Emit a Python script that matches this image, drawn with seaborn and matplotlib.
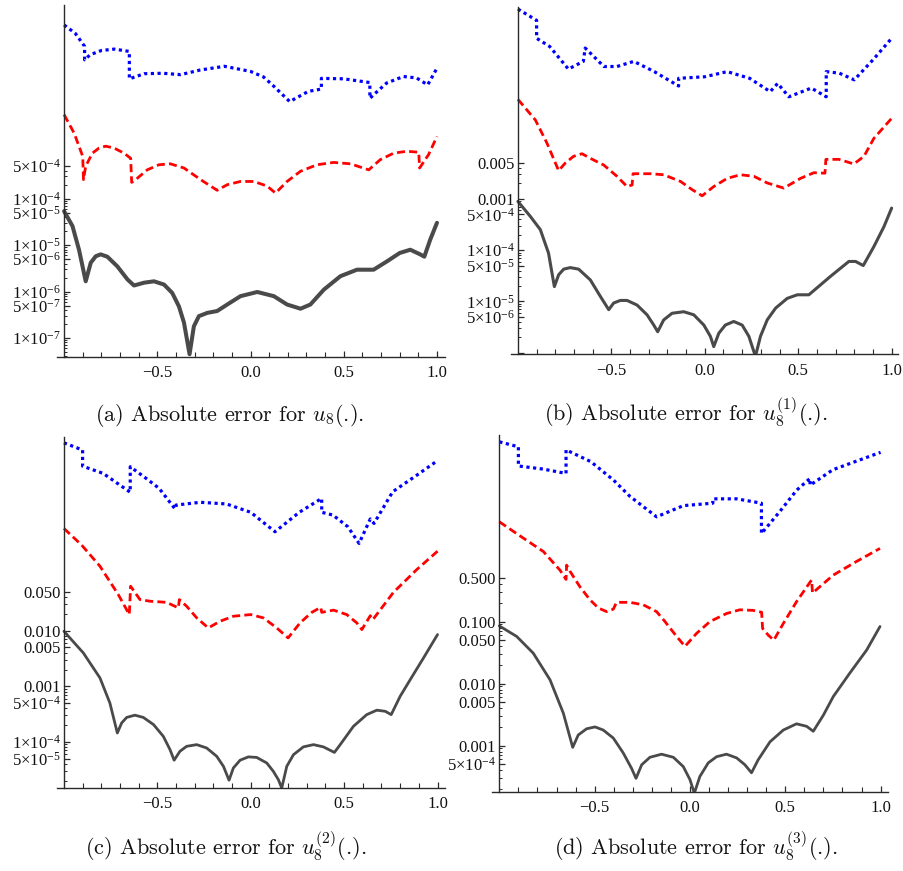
import numpy as np
import pandas as pd
import matplotlib
matplotlib.use("Agg")
import matplotlib.pyplot as plt
import seaborn as sns

# ---------------- data (log10 of absolute error) ----------------
# panel (a)
a_x_blue = [-1.0, -0.94, -0.89, -0.89, -0.86, -0.80, -0.73, -0.65, -0.65, -0.57, -0.47, -0.375, -0.27, -0.14,
            0.0, 0.07, 0.125, 0.21, 0.31, 0.38, 0.38, 0.50, 0.64, 0.64, 0.68, 0.73, 0.82, 0.89, 0.95, 1.0]
a_L_blue = [-0.26, -0.44, -0.72, -1.01, -0.90, -0.81, -0.78, -0.83, -1.42, -1.31, -1.30, -1.33, -1.23, -1.15,
            -1.26, -1.38, -1.58, -1.91, -1.69, -1.64, -1.41, -1.42, -1.50, -1.84, -1.69, -1.51, -1.37, -1.40, -1.55, -1.19]
a_x_red = [-1.0, -0.946, -0.90, -0.896, -0.884, -0.848, -0.8125, -0.777, -0.732, -0.679, -0.643, -0.6375, -0.607,
           -0.554, -0.491, -0.43, -0.357, -0.268, -0.214, -0.179, -0.125, -0.054, 0.018, 0.089, 0.134, 0.196,
           0.268, 0.357, 0.446, 0.536, 0.634, 0.696, 0.768, 0.839, 0.902, 0.907, 0.955, 1.0]
a_L_red = [-2.19, -2.59, -3.09, -3.59, -3.30, -3.02, -2.91, -2.87, -2.91, -3.02, -3.13, -3.65, -3.56,
           -3.38, -3.27, -3.25, -3.34, -3.59, -3.73, -3.82, -3.70, -3.63, -3.63, -3.73, -3.88, -3.63,
           -3.41, -3.27, -3.22, -3.25, -3.38, -3.16, -3.02, -2.98, -3.00, -3.34, -3.05, -2.66]
a_x_gray = [-1.0, -0.955, -0.92, -0.884, -0.857, -0.83, -0.804, -0.768, -0.714, -0.66, -0.625, -0.571, -0.518,
            -0.464, -0.42, -0.384, -0.357, -0.327, -0.304, -0.277, -0.232, -0.179, -0.125, -0.054, 0.036, 0.125,
            0.196, 0.268, 0.321, 0.393, 0.482, 0.571, 0.66, 0.732, 0.80, 0.857, 0.91, 0.932, 0.964, 1.0]
a_L_gray = [-4.27, -4.59, -5.10, -5.78, -5.38, -5.24, -5.20, -5.25, -5.46, -5.74, -5.87, -5.81, -5.78,
            -5.85, -6.03, -6.32, -6.67, -7.35, -6.75, -6.53, -6.46, -6.42, -6.28, -6.10, -6.01, -6.10,
            -6.28, -6.37, -6.28, -5.96, -5.67, -5.53, -5.53, -5.35, -5.17, -5.10, -5.20, -5.25, -4.88, -4.52]

# panel (b)
b_x_blue = [-1.0, -0.90, -0.90, -0.83, -0.73, -0.65, -0.64, -0.54, -0.47, -0.38, -0.27, -0.14, -0.14, 0.0,
            0.12, 0.24, 0.35, 0.39, 0.45, 0.57, 0.65, 0.65, 0.72, 0.80, 0.90, 1.0]
b_L_blue = [0.70, 0.48, 0.13, -0.03, -0.47, -0.32, -0.06, -0.42, -0.42, -0.32, -0.52, -0.80, -0.65, -0.62,
            -0.52, -0.65, -0.91, -0.75, -1.01, -0.84, -1.01, -0.52, -0.55, -0.68, -0.29, 0.13]
b_x_red = [-1.0, -0.907, -0.845, -0.782, -0.746, -0.702, -0.657, -0.6125, -0.541, -0.47, -0.416, -0.389, -0.384,
           -0.291, -0.22, -0.13, -0.068, -0.014, 0.048, 0.12, 0.191, 0.2625, 0.334, 0.423, 0.5125, 0.584,
           0.643, 0.648, 0.718, 0.798, 0.852, 0.905, 1.0]
b_L_red = [-1.06, -1.46, -1.91, -2.45, -2.30, -2.17, -2.12, -2.21, -2.34, -2.56, -2.76, -2.73, -2.51,
           -2.51, -2.53, -2.66, -2.82, -2.94, -2.76, -2.60, -2.53, -2.56, -2.69, -2.79, -2.60, -2.49,
           -2.50, -2.23, -2.23, -2.32, -2.17, -1.82, -1.43]
b_x_gray = [-1.0, -0.934, -0.88, -0.836, -0.805, -0.782, -0.755, -0.72, -0.675, -0.6125, -0.559, -0.514,
            -0.4875, -0.452, -0.416, -0.3625, -0.309, -0.273, -0.252, -0.22, -0.175, -0.1125, -0.059, -0.005,
            0.03, 0.048, 0.075, 0.11, 0.155, 0.20, 0.236, 0.271, 0.298, 0.334, 0.379, 0.441, 0.495, 0.557,
            0.673, 0.771, 0.807, 0.848, 0.905, 0.959, 1.0]
b_L_gray = [-3.05, -3.34, -3.60, -4.06, -4.71, -4.48, -4.37, -4.34, -4.37, -4.58, -4.90, -5.16,
            -5.03, -4.98, -4.98, -5.07, -5.26, -5.46, -5.59, -5.36, -5.23, -5.20, -5.26, -5.46,
            -5.68, -5.88, -5.62, -5.46, -5.39, -5.46, -5.68, -6.07, -5.68, -5.36, -5.13, -4.94, -4.87, -4.87,
            -4.51, -4.22, -4.22, -4.30, -3.93, -3.54, -3.18]

# panel (c)
c_x_blue = [-1.0, -0.90, -0.90, -0.79, -0.645, -0.645, -0.56, -0.49, -0.405, -0.40, -0.27, -0.13, 0.0, 0.13,
            0.26, 0.38, 0.38, 0.44, 0.52, 0.58, 0.64, 0.66, 0.76, 0.89, 1.0]
c_L_blue = [1.38, 1.25, 0.96, 0.83, 0.49, 0.95, 0.74, 0.56, 0.19, 0.26, 0.31, 0.28, 0.13, -0.22,
            0.13, 0.38, 0.13, 0.08, -0.13, -0.43, 0.01, -0.07, 0.50, 0.80, 1.06]
c_x_red = [-1.0, -0.905, -0.807, -0.709, -0.65, -0.643, -0.593, -0.539, -0.45, -0.3875, -0.382, -0.343,
           -0.289, -0.227, -0.164, -0.093, 0.0, 0.068, 0.139, 0.20, 0.264, 0.327, 0.375, 0.38, 0.443, 0.514,
           0.568, 0.595, 0.64, 0.654, 0.764, 0.889, 1.0]
c_L_red = [-0.16, -0.46, -0.84, -1.35, -1.71, -1.20, -1.44, -1.47, -1.49, -1.59, -1.44, -1.56,
           -1.77, -1.95, -1.83, -1.74, -1.71, -1.77, -1.95, -2.13, -1.86, -1.67, -1.58, -1.67, -1.63, -1.71,
           -1.86, -1.98, -1.73, -1.80, -1.31, -0.90, -0.57]
c_x_gray = [-1.0, -0.896, -0.807, -0.754, -0.714, -0.691, -0.664, -0.62, -0.575, -0.52, -0.468, -0.432, -0.41,
            -0.379, -0.343, -0.289, -0.236, -0.182, -0.146, -0.116, -0.093, -0.057, -0.0125, 0.032, 0.086,
            0.121, 0.148, 0.166, 0.193, 0.229, 0.282, 0.336, 0.389, 0.448, 0.479, 0.55, 0.621, 0.675, 0.72,
            0.752, 0.80, 0.854, 0.925, 1.0]
c_L_gray = [-2.01, -2.40, -2.85, -3.30, -3.84, -3.66, -3.56, -3.52, -3.56, -3.69, -3.90, -4.14, -4.33,
            -4.17, -4.08, -4.05, -4.11, -4.26, -4.44, -4.69, -4.47, -4.33, -4.27, -4.28, -4.38,
            -4.53, -4.68, -4.83, -4.44, -4.23, -4.09, -4.05, -4.09, -4.19, -4.05, -3.72, -3.51, -3.43, -3.45,
            -3.51, -3.18, -2.88, -2.49, -2.07]

# panel (d)
d_x_blue = [-1.0, -0.90, -0.90, -0.77, -0.65, -0.65, -0.52, -0.40, -0.315, -0.175, -0.035, 0.12, 0.12, 0.245,
            0.375, 0.375, 0.47, 0.56, 0.63, 0.63, 0.75, 1.0]
d_L_blue = [1.90, 1.82, 1.51, 1.46, 1.39, 1.77, 1.58, 1.28, 1.02, 0.69, 0.87, 0.91, 0.98, 0.98,
            0.91, 0.42, 0.77, 1.12, 1.31, 1.20, 1.45, 1.73]
d_x_red = [-1.0, -0.90, -0.769, -0.682, -0.65, -0.647, -0.629, -0.577, -0.524, -0.481, -0.437, -0.402, -0.385,
           -0.315, -0.245, -0.175, -0.131, -0.07, -0.026, 0.035, 0.105, 0.192, 0.262, 0.332, 0.376, 0.381,
           0.411, 0.44, 0.49, 0.559, 0.638, 0.643, 0.752, 0.874, 0.997]
d_L_red = [0.61, 0.40, 0.13, -0.17, -0.32, -0.09, -0.19, -0.44, -0.65, -0.78, -0.84, -0.80, -0.69,
           -0.69, -0.73, -0.84, -1.00, -1.24, -1.40, -1.19, -1.00, -0.87, -0.81, -0.82, -0.85, -1.11,
           -1.22, -1.30, -1.03, -0.68, -0.33, -0.54, -0.25, -0.03, 0.18]
d_x_gray = [-1.0, -0.909, -0.822, -0.734, -0.664, -0.615, -0.586, -0.542, -0.498, -0.455, -0.402, -0.35, -0.306,
            -0.283, -0.253, -0.21, -0.149, -0.087, -0.035, 0.0, 0.023, 0.052, 0.096, 0.14, 0.192, 0.245, 0.288,
            0.323, 0.358, 0.42, 0.49, 0.559, 0.612, 0.647, 0.70, 0.752, 0.839, 0.927, 0.997]
d_L_gray = [-1.07, -1.24, -1.51, -1.94, -2.48, -3.03, -2.83, -2.73, -2.70, -2.75, -2.88, -3.12, -3.37,
            -3.53, -3.31, -3.19, -3.14, -3.19, -3.34, -3.55, -3.77, -3.50, -3.28, -3.18, -3.14, -3.20, -3.31,
            -3.44, -3.23, -2.94, -2.75, -2.65, -2.69, -2.77, -2.51, -2.21, -1.83, -1.46, -1.08]

# tick values / labels
a_yticks = [1e-7, 5e-7, 1e-6, 5e-6, 1e-5, 5e-5, 1e-4, 5e-4]
a_ylabels = [r"$1{\times}10^{-7}$", r"$5{\times}10^{-7}$", r"$1{\times}10^{-6}$", r"$5{\times}10^{-6}$",
             r"$1{\times}10^{-5}$", r"$5{\times}10^{-5}$", r"$1{\times}10^{-4}$", r"$5{\times}10^{-4}$"]
b_yticks = [1e-6, 5e-6, 1e-5, 5e-5, 1e-4, 5e-4, 1e-3, 5e-3]
b_ylabels = ["", r"$5{\times}10^{-6}$", r"$1{\times}10^{-5}$", r"$5{\times}10^{-5}$", r"$1{\times}10^{-4}$",
             r"$5{\times}10^{-4}$", "0.001", "0.005"]
c_yticks = [5e-5, 1e-4, 5e-4, 1e-3, 5e-3, 1e-2, 5e-2]
c_ylabels = [r"$5{\times}10^{-5}$", r"$1{\times}10^{-4}$", r"$5{\times}10^{-4}$", "0.001", "0.005", "0.010", "0.050"]
d_yticks = [5e-4, 1e-3, 5e-3, 1e-2, 5e-2, 1e-1, 5e-1]
d_ylabels = [r"$5{\times}10^{-4}$", "0.001", "0.005", "0.010", "0.050", "0.100", "0.500"]

x_ticks = [-0.5, 0.0, 0.5, 1.0]
x_labels = ["\u22120.5", "0.0", "0.5", "1.0"]

captions = [r"(a) Absolute error for $u_8$(.).",
            r"(b) Absolute error for $u_8^{(1)}$(.).",
            r"(c) Absolute error for $u_8^{(2)}$(.).",
            r"(d) Absolute error for $u_8^{(3)}$(.)."]

# ---------------- style ----------------
sns.set_style("ticks")
plt.rcParams["font.family"] = ["Liberation Serif", "DejaVu Serif"]
plt.rcParams["mathtext.fontset"] = "custom"
plt.rcParams["mathtext.rm"] = "Liberation Serif"
plt.rcParams["mathtext.it"] = "Liberation Serif:italic"
plt.rcParams["mathtext.bf"] = "Liberation Serif:bold"

BLUE, RED, GRAY = "#0000FF", "#FF0000", "#4A4A4A"
AXC = "#2A2A2A"

fig = plt.figure(figsize=(9.04, 8.71), dpi=100)

W, H = 904.0, 871.0
# pixel boxes: left, right, top, bottom
layout = [
    dict(px=(57, 445, 5, 357), xlim=(-1.038, 1.043), ylog=(-7.41, 0.17)),
    dict(px=(511, 898, 7, 354.3), xlim=(-1.037, 1.034), ylog=(-6.03, 0.74)),
    dict(px=(57, 445, 436.7, 788), xlim=(-1.037, 1.04), ylog=(-4.83, 1.49)),
    dict(px=(491.7, 888, 435, 792), xlim=(-1.04, 1.039), ylog=(-3.75, 2.01)),
]
series = [
    (a_x_blue, a_L_blue, a_x_red, a_L_red, a_x_gray, a_L_gray, a_yticks, a_ylabels, 2.9),
    (b_x_blue, b_L_blue, b_x_red, b_L_red, b_x_gray, b_L_gray, b_yticks, b_ylabels, 2.2),
    (c_x_blue, c_L_blue, c_x_red, c_L_red, c_x_gray, c_L_gray, c_yticks, c_ylabels, 2.0),
    (d_x_blue, d_L_blue, d_x_red, d_L_red, d_x_gray, d_L_gray, d_yticks, d_ylabels, 2.0),
]
cap_pos = [(230, 421), (686, 421), (226, 855), (696, 855)]


def minor_ticks(lo, hi, majors):
    out = []
    for e in range(-9, 3):
        for k in range(1, 10):
            v = k * 10.0 ** e
            if lo <= v <= hi and not any(abs(v - m) / m < 1e-6 for m in majors):
                out.append(v)
    return out


minor_ranges = [(10 ** -7.41, 5e-4), (1e-6, 5e-3), (10 ** -4.83, 5e-2), (10 ** -3.75, 5e-1)]

for i, (lay, ser) in enumerate(zip(layout, series)):
    l, r, t, b = lay["px"]
    ax = fig.add_axes([l / W, 1 - b / H, (r - l) / W, (b - t) / H])
    ax.set_yscale("log")
    xb, Lb, xr, Lr, xg, Lg, yt, yl, glw = ser
    for xs, Ls, col, lw, ls in [
        (xg, Lg, GRAY, glw, "-"),
        (xr, Lr, RED, 2.0, (0, (2.9, 1.5))),
        (xb, Lb, BLUE, 2.3, (0, (1.0, 1.1))),
    ]:
        df = pd.DataFrame({"x": xs, "err": np.power(10.0, Ls)})
        sns.lineplot(data=df, x="x", y="err", ax=ax, sort=False, estimator=None,
                     color=col, linewidth=lw)
        ax.lines[-1].set_linestyle(ls)
        ax.lines[-1].set_dash_capstyle("butt")
        ax.lines[-1].set_solid_joinstyle("round")
    ax.set_xlabel("")
    ax.set_ylabel("")
    ax.set_xlim(*lay["xlim"])
    ax.set_ylim(10 ** lay["ylog"][0], 10 ** lay["ylog"][1])

    for s in ["top", "right"]:
        ax.spines[s].set_visible(False)
    ax.spines["left"].set_position(("data", -1.0))
    for s in ["left", "bottom"]:
        ax.spines[s].set_color(AXC)
        ax.spines[s].set_linewidth(1.0)

    ax.set_xticks(x_ticks)
    ax.set_xticklabels(x_labels)
    ax.set_xticks([round(v, 1) for v in np.arange(-0.9, 1.0, 0.1) if abs(round(v, 1) * 2 - round(v * 2)) > 1e-6],
                  minor=True)
    ax.set_yticks(yt)
    ax.set_yticklabels(yl)
    lo, hi = minor_ranges[i]
    ax.set_yticks(minor_ticks(lo, hi, yt), minor=True)
    ax.set_yticklabels([], minor=True)

    ax.tick_params(axis="x", which="major", direction="in", length=4.5, width=0.9, color=AXC,
                   labelsize=12, pad=6, labelcolor="#111111")
    ax.tick_params(axis="x", which="minor", direction="in", length=3.5, width=0.8, color=AXC)
    ax.tick_params(axis="y", which="major", direction="in", length=4.5, width=0.9, color=AXC,
                   labelsize=12, pad=2.5, labelcolor="#111111")
    ax.tick_params(axis="y", which="minor", direction="in", length=2.2, width=0.7, color=AXC)
    ax.patch.set_alpha(0)

for (cx, cy), txt in zip(cap_pos, captions):
    fig.text(cx / W, 1 - cy / H, txt, ha="center", va="baseline", fontsize=16,
             fontfamily="cmr10", math_fontfamily="cm", color="#111111")

fig.savefig("out.png", dpi=100)
